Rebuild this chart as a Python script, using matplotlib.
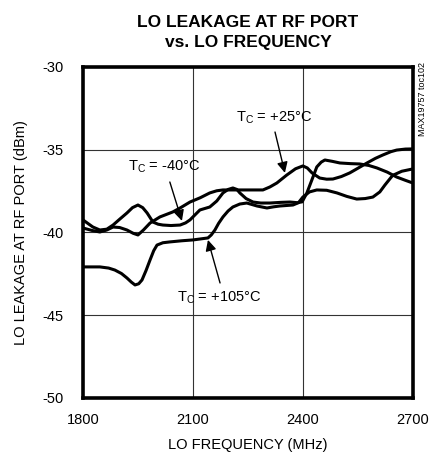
import matplotlib
matplotlib.use('Agg')
import matplotlib.pyplot as plt

plt.rcParams['font.family'] = ['Liberation Sans', 'DejaVu Sans']
plt.rcParams['axes.unicode_minus'] = False

# --------------------------------------------------------------------
# DATA
# --------------------------------------------------------------------

freq_m40 = [1800, 1815, 1827, 1846, 1865, 1882, 1900, 1920, 1935, 1950, 1963,
            1975, 1991, 2005, 2018, 2040, 2065, 2080, 2092, 2105, 2119, 2146,
            2165, 2182, 2196, 2209, 2220, 2228, 2245, 2264, 2285, 2310, 2340,
            2365, 2385, 2398, 2411, 2425, 2438, 2450, 2460, 2480, 2501, 2530,
            2555, 2580, 2602, 2630, 2656, 2680, 2700]
lvl_m40 = [-39.24, -39.48, -39.67, -39.85, -39.80, -39.55, -39.20, -38.82,
           -38.50, -38.34, -38.50, -38.82, -39.37, -39.50, -39.55, -39.58,
           -39.55, -39.42, -39.24, -38.95, -38.64, -38.46, -38.10, -37.61,
           -37.40, -37.31, -37.40, -37.61, -37.95, -38.16, -38.22, -38.22,
           -38.18, -38.16, -38.20, -38.15, -37.61, -36.80, -36.04, -35.75,
           -35.62, -35.70, -35.80, -35.84, -35.86, -35.95, -36.10, -36.35,
           -36.65, -36.85, -37.01]

freq_p25 = [1800, 1825, 1846, 1865, 1882, 1900, 1920, 1937, 1950, 1965, 1983,
            2010, 2045, 2065, 2092, 2120, 2146, 2165, 2182, 2220, 2260, 2291,
            2310, 2329, 2356, 2380, 2400, 2412, 2425, 2446, 2465, 2482, 2505,
            2528, 2550, 2575, 2598, 2618, 2640, 2656, 2680, 2700]
lvl_p25 = [-39.73, -39.88, -39.97, -39.85, -39.67, -39.70, -39.85, -40.05,
           -40.15, -39.85, -39.43, -39.06, -38.76, -38.52, -38.16, -37.90,
           -37.61, -37.48, -37.43, -37.43, -37.43, -37.43, -37.25, -37.01,
           -36.53, -36.15, -35.98, -36.10, -36.40, -36.71, -36.78, -36.77,
           -36.62, -36.40, -36.12, -35.80, -35.52, -35.32, -35.12, -35.02,
           -34.96, -34.95]

freq_p105 = [1800, 1846, 1870, 1887, 1905, 1920, 1932, 1942, 1952, 1961, 1972,
             1983, 1993, 2002, 2018, 2037, 2070, 2100, 2141, 2150, 2160, 2170,
             2182, 2196, 2209, 2228, 2247, 2275, 2302, 2320, 2337, 2373, 2388,
             2400, 2418, 2438, 2465, 2493, 2520, 2547, 2570, 2591, 2610, 2624,
             2645, 2670, 2700]
lvl_p105 = [-42.08, -42.08, -42.15, -42.27, -42.48, -42.75, -43.00, -43.17,
            -43.10, -42.87, -42.30, -41.66, -41.10, -40.76, -40.62, -40.57,
            -40.50, -40.45, -40.33, -40.15, -39.85, -39.45, -39.06, -38.70,
            -38.46, -38.28, -38.22, -38.40, -38.52, -38.45, -38.40, -38.34,
            -38.20, -37.86, -37.55, -37.43, -37.45, -37.61, -37.82, -37.98,
            -37.95, -37.86, -37.55, -37.13, -36.55, -36.30, -36.16]

x_ticks = [1800, 2100, 2400, 2700]
y_ticks = [-50, -45, -40, -35, -30]

# --------------------------------------------------------------------
# PLOT
# --------------------------------------------------------------------

fig = plt.figure(figsize=(4.30, 4.61), dpi=100)
ax = fig.add_axes([0.193, 0.1367, 0.767, 0.718])

for f, v in [(freq_m40, lvl_m40), (freq_p25, lvl_p25), (freq_p105, lvl_p105)]:
    ax.plot(f, v, color='black', lw=2.2, solid_joinstyle='round',
            solid_capstyle='round', zorder=3)

ax.set_xlim(1800, 2700)
ax.set_ylim(-50, -30)
ax.set_xticks(x_ticks)
ax.set_yticks(y_ticks)
ax.tick_params(length=0, labelsize=10.5, pad=11)
ax.tick_params(axis='y', pad=14)
ax.grid(True, color='#333333', lw=0.8)
for s in ax.spines.values():
    s.set_linewidth(2.6)

ax.set_xlabel('LO FREQUENCY (MHz)', fontsize=10.5, labelpad=8)
ax.set_ylabel('LO LEAKAGE AT RF PORT (dBm)', fontsize=10.5, labelpad=10)

fig.text(0.577, 0.968, 'LO LEAKAGE AT RF PORT\nvs. LO FREQUENCY',
         ha='center', va='top', fontsize=12.5, fontweight='bold',
         linespacing=1.4)
fig.text(0.983, 0.865, 'MAX19757 toc102', rotation=90, ha='center',
         va='top', fontsize=6.5)

arrow = dict(arrowstyle='-|>', color='black', lw=1.0, mutation_scale=16,
             shrinkA=0, shrinkB=0)
ax.text(2321, -33.08, r'T$_\mathregular{C}$ = +25°C', ha='center',
        va='center', fontsize=10.5)
ax.annotate('', xy=(2351, -36.4), xytext=(2324, -33.93), arrowprops=arrow)
ax.text(2021, -36.04, r'T$_\mathregular{C}$ = -40°C', ha='center',
        va='center', fontsize=10.5)
ax.annotate('', xy=(2070, -39.3), xytext=(2037, -36.95), arrowprops=arrow)
ax.text(2171, -43.96, r'T$_\mathregular{C}$ = +105°C', ha='center',
        va='center', fontsize=10.5)
ax.annotate('', xy=(2141, -40.45), xytext=(2174, -43.05), arrowprops=arrow)

plt.savefig('out.png', dpi=100)
